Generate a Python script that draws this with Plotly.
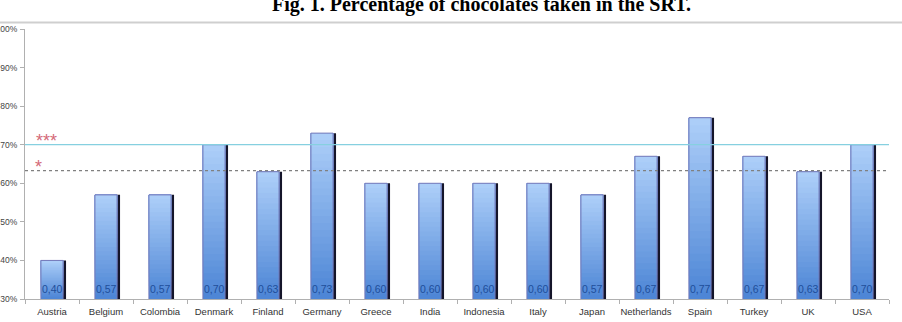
import plotly.graph_objects as go

countries = ["Austria", "Belgium", "Colombia", "Denmark", "Finland", "Germany", "Greece", "India",
             "Indonesia", "Italy", "Japan", "Netherlands", "Spain", "Turkey", "UK", "USA"]
shares = [0.40, 0.57, 0.57, 0.70, 0.63, 0.73, 0.60, 0.60, 0.60, 0.60, 0.57, 0.67, 0.77, 0.67, 0.63, 0.70]
labels = ["0,40", "0,57", "0,57", "0,70", "0,63", "0,73", "0,60", "0,60",
          "0,60", "0,60", "0,57", "0,67", "0,77", "0,67", "0,63", "0,70"]
level_3star = 0.70
level_1star = 0.633
y_min, y_max = 0.30, 1.00

W, H = 902, 322
ML, MR, MT, MB = 25, 13, 29, 23
PW = W - ML - MR
PH = H - MT - MB

def px_to_paper_y(py):
    return (H - MB - py) / PH

def px_to_paper_x(px):
    return (px - ML) / PW

BW = 0.41
fig = go.Figure()

# shadow
fig.add_trace(go.Bar(x=countries, y=shares, width=BW, offset=-BW / 2 + 0.055,
                     marker=dict(color="#15152a", line=dict(width=0)), hoverinfo="skip"))

# gradient (overlapping segments, bottom dark -> top light)
N = 24
top_c = (172, 206, 248)
bot_c = (78, 134, 214)
for k in range(N):
    t = k / (N - 1)
    c = tuple(round(bot_c[i] + (top_c[i] - bot_c[i]) * t) for i in range(3))
    fig.add_trace(go.Bar(
        x=countries,
        y=[(v - y_min) * (N - k) / N for v in shares],
        base=[y_min + (v - y_min) * k / N for v in shares],
        width=BW, offset=-BW / 2,
        marker=dict(color="rgb(%d,%d,%d)" % c, line=dict(width=0)),
        hoverinfo="skip"))

# outline
fig.add_trace(go.Bar(x=countries, y=shares, width=BW, offset=-BW / 2,
                     marker=dict(color="rgba(0,0,0,0)", line=dict(color="#7478b8", width=1)),
                     hoverinfo="skip"))

# value labels at the bottom of each bar
for c, lab in zip(countries, labels):
    fig.add_annotation(x=c, y=y_min, xref="x", yref="y", text=lab, showarrow=False,
                       xanchor="center", yanchor="bottom", yshift=2,
                       font=dict(family="Liberation Sans", size=10.5, color="#1f4e9a"))

fig.update_layout(
    width=W, height=H, barmode="overlay", showlegend=False,
    margin=dict(l=ML, r=MR, t=MT, b=MB, autoexpand=False),
    paper_bgcolor="white", plot_bgcolor="white",
    xaxis=dict(type="category", showline=True, linecolor="#b0b0b0", linewidth=1,
               ticks="outside", tickson="boundaries", ticklen=4, tickcolor="#b0b0b0",
               tickangle=0, ticklabelstandoff=4,
               tickfont=dict(family="Liberation Sans", size=9.5, color="#333"),
               showgrid=False, range=[-0.5, 15.5], fixedrange=True, automargin=False),
    yaxis=dict(range=[y_min, y_max], dtick=0.1, tickformat=".0%", showline=True,
               linecolor="#b0b0b0", linewidth=1, ticks="outside", ticklen=4,
               tickcolor="#b0b0b0", showgrid=False, zeroline=False, ticklabelstandoff=1,
               tickfont=dict(family="Liberation Sans", size=8.5, color="#444"),
               automargin=False),
)

fig.add_shape(type="line", xref="paper", yref="y", x0=0, x1=1, y0=level_3star, y1=level_3star,
              line=dict(color="#86d0e0", width=1.2))
fig.add_shape(type="line", xref="paper", yref="y", x0=0, x1=1, y0=level_1star, y1=level_1star,
              line=dict(color="#808080", width=1.2, dash="dot"))
fig.add_shape(type="line", xref="paper", yref="paper", x0=px_to_paper_x(0), x1=px_to_paper_x(W),
              y0=px_to_paper_y(22.5), y1=px_to_paper_y(22.5),
              line=dict(color="#cfcfcf", width=2))

fig.add_annotation(xref="paper", yref="y", x=px_to_paper_x(34), y=level_3star, xanchor="left",
                   yanchor="bottom", yshift=-8, text="***", showarrow=False,
                   font=dict(family="Liberation Sans", size=18, color="#d46a78"))
fig.add_annotation(xref="paper", yref="y", x=px_to_paper_x(33), y=level_1star, xanchor="left",
                   yanchor="bottom", yshift=-8, text="*", showarrow=False,
                   font=dict(family="Liberation Sans", size=18, color="#d46a78"))

fig.add_annotation(xref="paper", yref="paper", x=px_to_paper_x(481), y=px_to_paper_y(4),
                   xanchor="center", yanchor="middle",
                   text="<b>Fig. 1. Percentage of chocolates taken in the SRT.</b>", showarrow=False,
                   font=dict(family="Liberation Serif", size=20, color="#000"))

fig.write_html("out.html")
